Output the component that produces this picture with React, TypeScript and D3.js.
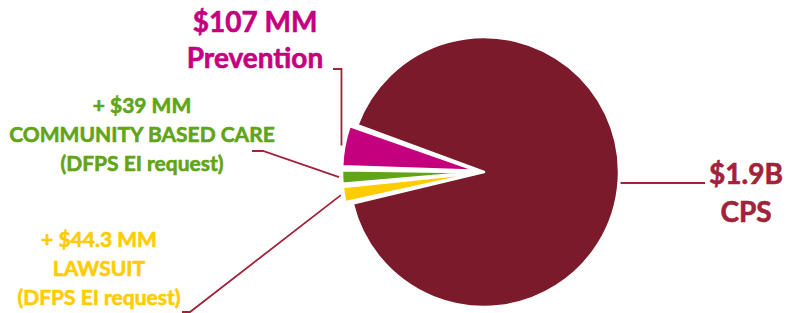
import React from 'react'
import * as d3 from 'd3'

// slices, clockwise starting from the lawsuit wedge
const categories = ['LAWSUIT', 'COMMUNITY BASED CARE', 'Prevention', 'CPS']
const values = [44.3, 39, 107, 1900]
const colors = ['#FFCC00', '#62A417', '#C5007F', '#7B1A2A']
const textColors = ['#FFCC00', '#62A417', '#C5007F', '#A0233A']
const labelLines = [
  ['+ $44.3 MM', 'LAWSUIT', '(DFPS EI request)'],
  ['+ $39 MM', 'COMMUNITY BASED CARE', '(DFPS EI request)'],
  ['$107 MM', 'Prevention'],
  ['$1.9B', 'CPS'],
]

function App() {
  const width = 788
  const height = 313
  const cx = 484
  const cy = 172
  const r = 135
  const explode = 7
  const lineColor = '#A0233A'

  const pie = d3
    .pie<number>()
    .sort(null)
    .value(d => d)
    .startAngle((257 * Math.PI) / 180)
    .endAngle((257 * Math.PI) / 180 + 2 * Math.PI)
  const arcs = pie(values)
  const arc = d3.arc<d3.PieArcDatum<number>>().innerRadius(0).outerRadius(r).padAngle(0.018)

  const mid = (a: d3.PieArcDatum<number>) => (a.startAngle + a.endAngle) / 2
  const offset = (a: d3.PieArcDatum<number>, i: number) => {
    const k = i < 3 ? explode : 0
    return [Math.sin(mid(a)) * k, -Math.cos(mid(a)) * k]
  }
  const polar = (angle: number, rad: number, off: number[]) => [
    cx + off[0] + Math.sin(angle) * rad,
    cy + off[1] - Math.cos(angle) * rad,
  ]

  // leader line ends on the pie
  const ends = arcs.map((a, i) => polar(mid(a), r + 3, offset(a, i)))
  const cpsY = 183
  const cpsAngle = Math.PI / 2 + Math.asin((cpsY - cy) / (r + 2))
  const cpsEnd = polar(cpsAngle, r + 2, [0, 0])

  const leaders = [
    `M 182 312 L 190 312 L ${ends[0][0]} ${ends[0][1]}`,
    `M 252 151 L 263 151 L ${ends[1][0]} ${ends[1][1]}`,
    `M 333 69 L ${ends[2][0]} 69 L ${ends[2][0]} ${ends[2][1]}`,
    `M ${cpsEnd[0]} ${cpsY} L 705 ${cpsY}`,
  ]

  // text blocks: centre x, first baseline, line step, font size
  const labelPos = [
    { x: 99, y: 247, step: 29, size: 21 },
    { x: 142, y: 113, step: 29, size: 21 },
    { x: 255, y: 32, step: 36, size: 28 },
    { x: 746, y: 184, step: 38, size: 28 },
  ]

  return (
    <svg width={width} height={height} style={{ position: 'absolute', left: 0, top: 0 }}>
      <g transform={`translate(${cx} ${cy})`}>
        {arcs.map((a, i) => {
          const off = offset(a, i)
          return (
            <path
              key={categories[i]}
              d={arc(a) || ''}
              transform={`translate(${off[0]} ${off[1]})`}
              fill={colors[i]}
              stroke="#fff"
              strokeWidth={2.5}
              strokeLinejoin="round"
            />
          )
        })}
      </g>

      {leaders.map((d, i) => (
        <path key={i} d={d} fill="none" stroke={lineColor} strokeWidth={1.8} />
      ))}

      {labelLines.map((lines, i) => (
        <text
          key={categories[i]}
          textAnchor="middle"
          fontFamily="Lato, 'Open Sans', sans-serif"
          fontWeight="bold"
          fontSize={labelPos[i].size}
          fill={textColors[i]}
          stroke={textColors[i]}
          strokeWidth={0.6}
        >
          {lines.map((t, j) => (
            <tspan key={j} x={labelPos[i].x} y={labelPos[i].y + j * labelPos[i].step}>
              {t}
            </tspan>
          ))}
        </text>
      ))}
    </svg>
  )
}

export default App
